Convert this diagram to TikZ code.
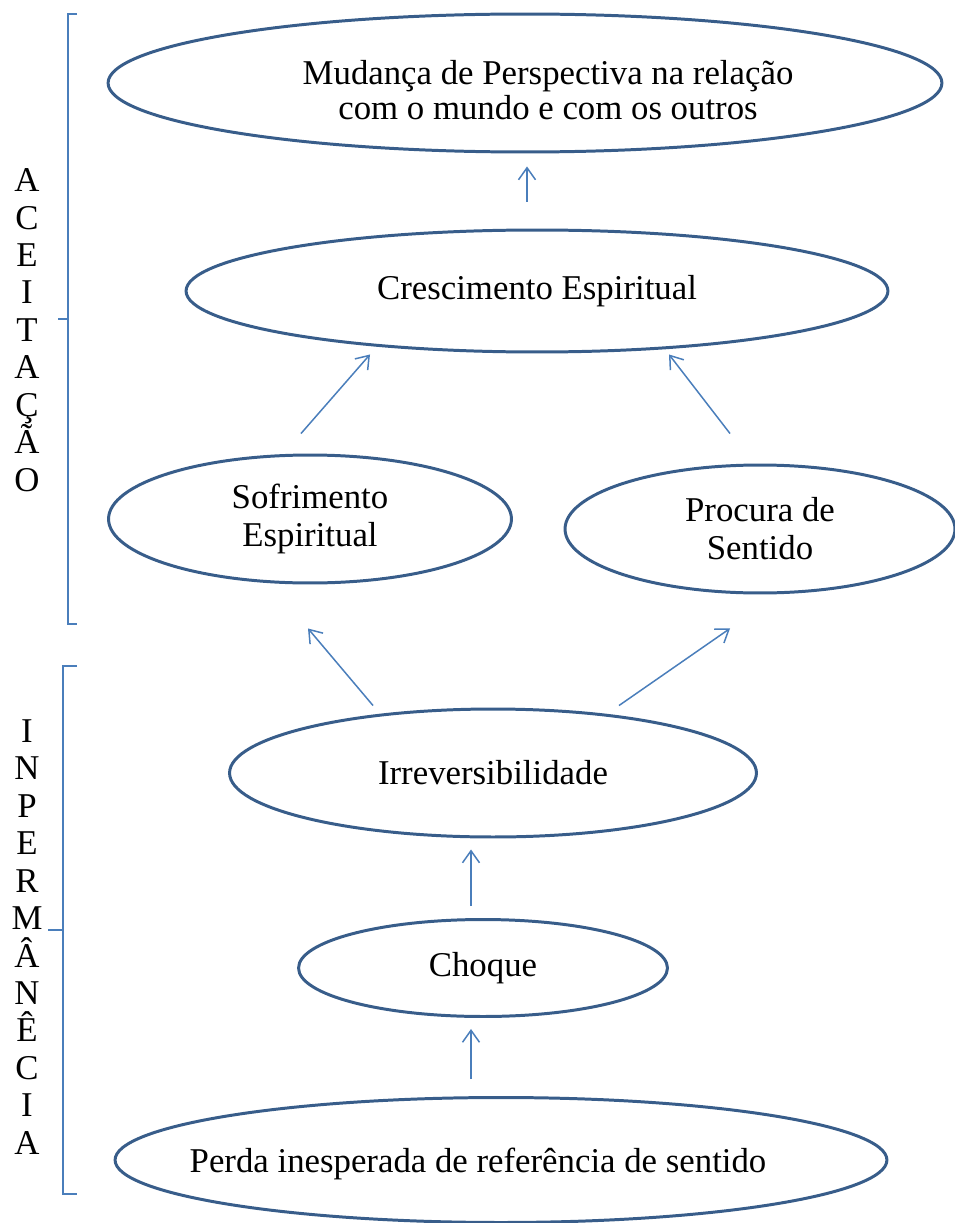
\documentclass[tikz,border=0pt]{standalone}
\usepackage{fontspec}
\setmainfont{Liberation Serif}
\usepackage{tikz}
\usetikzlibrary{shapes.geometric,arrows.meta}

\definecolor{ovalline}{HTML}{385D8A}
\definecolor{arrowline}{HTML}{4A7EBB}

\begin{document}
\begin{tikzpicture}[x=0.02cm, y=-0.02cm,
	oval/.style={ellipse, draw=ovalline, line width=1.7pt, inner sep=0pt, align=center},
	arr/.style={draw=arrowline, line width=0.85pt, -{Straight Barb[length=0.24cm,width=0.34cm]}},
	bracket/.style={draw=arrowline, line width=0.8pt},
	every node/.style={font=\fontsize{19.8}{21.6}\selectfont}]
	\useasboundingbox (0,0) rectangle (955,1223);

	% the ovals, top to bottom
	\node (mud) [oval, minimum width=16.68cm, minimum height=2.76cm] at (525,83) {};
	\node (mudtxt) [align=center, font=\fontsize{19.8}{19.8}\selectfont] at (548,90) {Mudança de Perspectiva na relação\\com o mundo e com os outros};
	\node (cresc) [oval, minimum width=14.04cm, minimum height=2.44cm] at (537,291) {Crescimento Espiritual};
	\node (sofr) [oval, minimum width=8.06cm, minimum height=2.56cm] at (310,519) {Sofrimento\\Espiritual};
	\node (proc) [oval, minimum width=7.8cm, minimum height=2.56cm] at (760,529) {Procura de\\Sentido};
	\node (irrev) [oval, minimum width=10.54cm, minimum height=2.56cm] at (493,773) {Irreversibilidade};
	\node (choque) [oval, minimum width=7.38cm, minimum height=1.94cm] at (483,968) {Choque};
	\node (perda) [oval, minimum width=15.44cm, minimum height=2.5cm] at (501,1160) {};
	\node (perdatxt) at (478,1164) {Perda inesperada de referência de sentido};

	% arrows (they stop short of the ovals)
	\draw[arr] ([shift={(-30,-17)}]perda.north) -- ([shift={(-12,11)}]choque.south);
	\draw[arr] ([shift={(-12,-12)}]choque.north) -- ([shift={(-22,11)}]irrev.south);
	\draw[arr] ([shift={(-120,-2)}]irrev.north) -- ([shift={(-2,44)}]sofr.south);
	\draw[arr] ([shift={(126,-2)}]irrev.north) -- ([shift={(-30,34)}]proc.south);
	\draw[arr] ([shift={(-9,-20)}]sofr.north) -- ([shift={(-167,1)}]cresc.south);
	\draw[arr] ([shift={(-30,-30)}]proc.north) -- ([shift={(132,1)}]cresc.south);
	\draw[arr] ([shift={(-10,-27)}]cresc.north) -- ([shift={(2,13)}]mud.south);

	% brackets and the vertical words
	\draw[bracket] (77,14) -- (68,14) -- (68,624) -- (77,624);
	\draw[bracket] (68,319) -- (58,319);
	\node (aceit) [align=center, font=\fontsize{19.8}{21.3}\selectfont] at (27,330) {A\\C\\E\\I\\T\\A\\Ç\\Ã\\O};

	\draw[bracket] (77,666) -- (63,666) -- (63,1194) -- (77,1194);
	\draw[bracket] (63,930) -- (48,930);
	\node (inperm) [align=center, font=\fontsize{19.8}{21.3}\selectfont] at (27,937) {I\\N\\P\\E\\R\\M\\Â\\N\\Ê\\C\\I\\A};

\end{tikzpicture}
\end{document}
